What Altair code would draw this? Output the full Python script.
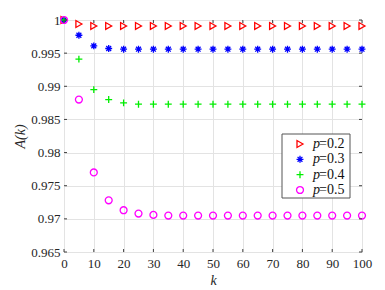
import altair as alt
import pandas as pd

k_vals = [0, 5, 10, 15, 20, 25, 30, 35, 40, 45, 50, 55, 60, 65, 70, 75, 80, 85, 90, 95, 100]
a_p02 = [1.0, 0.9994, 0.9991, 0.9991, 0.9991, 0.9991, 0.9991, 0.9991, 0.9991, 0.9991, 0.9991,
         0.9991, 0.9991, 0.9991, 0.9991, 0.9991, 0.9991, 0.9991, 0.9991, 0.9991, 0.9991]
a_p03 = [1.0, 0.9977, 0.9961, 0.9957, 0.9956, 0.9956, 0.9956, 0.9956, 0.9956, 0.9956, 0.9956,
         0.9956, 0.9956, 0.9956, 0.9956, 0.9956, 0.9956, 0.9956, 0.9956, 0.9956, 0.9956]
a_p04 = [1.0, 0.9941, 0.9895, 0.9880, 0.9875, 0.9873, 0.9873, 0.9873, 0.9873, 0.9873, 0.9873,
         0.9873, 0.9873, 0.9873, 0.9873, 0.9873, 0.9873, 0.9873, 0.9873, 0.9873, 0.9873]
a_p05 = [1.0, 0.9880, 0.9770, 0.9728, 0.9713, 0.9708, 0.9706, 0.9705, 0.9705, 0.9705, 0.9705,
         0.9705, 0.9705, 0.9705, 0.9705, 0.9705, 0.9705, 0.9705, 0.9705, 0.9705, 0.9705]
series = ["0.2", "0.3", "0.4", "0.5"]
x_ticks = [0, 10, 20, 30, 40, 50, 60, 70, 80, 90, 100]
y_ticks = [0.965, 0.97, 0.975, 0.98, 0.985, 0.99, 0.995, 1.0]

colors = ["#ff0000", "#0000ff", "#00ee00", "#ff00ff"]
asterisk = "M-1,0L1,0M0,-1L0,1M-0.7,-0.7L0.7,0.7M-0.7,0.7L0.7,-0.7"
plus = "M-1,0L1,0M0,-1L0,1"
shapes = ["triangle-right", asterisk, plus, "circle"]

rows = []
for s, vals in zip(series, [a_p02, a_p03, a_p04, a_p05]):
    for k, a in zip(k_vals, vals):
        rows.append({"k": k, "A": a, "series": s})
df = pd.DataFrame(rows)

FONT = "Liberation Serif"
xs = alt.Scale(domain=[0, 100], nice=False, zero=False)
ys = alt.Scale(domain=[0.965, 1.0], nice=False, zero=False)
cscale = alt.Scale(domain=series, range=colors)
sscale = alt.Scale(domain=series, range=shapes)

W, H = 298, 232

x_axis = alt.Axis(values=x_ticks, title="k", titleFontStyle="italic", titleFont=FONT,
                  titleFontSize=14, titleFontWeight="normal", titleColor="#262626",
                  labelFont=FONT, labelFontSize=13, labelColor="#262626",
                  labelPadding=5, titlePadding=3, ticks=False, domain=False,
                  grid=True, gridColor="#e3e3e3", labelFlush=False)
y_axis = alt.Axis(values=y_ticks, title="A(k)", titleFontStyle="italic", titleFont=FONT,
                  titleFontSize=14, titleFontWeight="normal", titleColor="#262626",
                  labelFont=FONT, labelFontSize=13, labelColor="#262626",
                  labelPadding=4, titlePadding=3, ticks=False, domain=False,
                  grid=True, gridColor="#e3e3e3", labelFlush=False,
                  labelExpr="datum.value == 1 ? '1' : format(datum.value, '.3~f')")

points = alt.Chart(df).mark_point(filled=False, size=48, strokeWidth=1.3, opacity=1).encode(
    x=alt.X("k:Q", scale=xs, axis=x_axis),
    y=alt.Y("A:Q", scale=ys, axis=y_axis),
    color=alt.Color("series:N", scale=cscale, legend=None),
    shape=alt.Shape("series:N", scale=sscale, legend=None),
    order=alt.Order("series:N"),
)

xt = pd.DataFrame({"t": x_ticks})
yt = pd.DataFrame({"t": y_ticks})
tick_col = "#404040"
xb = alt.Chart(xt).mark_rule(color=tick_col, strokeWidth=1).encode(
    x=alt.X("t:Q", scale=xs, axis=x_axis), y=alt.value(H), y2=alt.value(H - 3))
xtop = alt.Chart(xt).mark_rule(color=tick_col, strokeWidth=1).encode(
    x=alt.X("t:Q", scale=xs, axis=x_axis), y=alt.value(0), y2=alt.value(3))
yl = alt.Chart(yt).mark_rule(color=tick_col, strokeWidth=1).encode(
    y=alt.Y("t:Q", scale=ys, axis=None), x=alt.value(0), x2=alt.value(3))
yr = alt.Chart(yt).mark_rule(color=tick_col, strokeWidth=1).encode(
    y=alt.Y("t:Q", scale=ys, axis=None), x=alt.value(W), x2=alt.value(W - 3))

leg_df = pd.DataFrame({"series": series, "lab": ["=" + s for s in series]})
box = alt.Chart(pd.DataFrame({"a": [0]})).mark_rect(
    fill="white", stroke="#555555", strokeWidth=1).encode(
    x=alt.value(218), x2=alt.value(286), y=alt.value(114), y2=alt.value(178))
ly = alt.Y("series:N", scale=alt.Scale(domain=series, range=[124, 170], padding=0), axis=None)
leg_sym = alt.Chart(leg_df).mark_point(filled=False, size=48, strokeWidth=1.3, opacity=1).encode(
    x=alt.value(236), y=ly,
    color=alt.Color("series:N", scale=cscale, legend=None),
    shape=alt.Shape("series:N", scale=sscale, legend=None),
)
leg_p = alt.Chart(leg_df).mark_text(font=FONT, fontSize=14, fontStyle="italic", align="left",
                                    baseline="middle", color="#111111").encode(
    x=alt.value(249), y=ly, text=alt.value("p"))
leg_t = alt.Chart(leg_df).mark_text(font=FONT, fontSize=14, align="left",
                                    baseline="middle", color="#111111").encode(
    x=alt.value(255), y=ly, text="lab:N")

chart = alt.layer(points, xb, xtop, yl, yr, box, leg_sym, leg_p, leg_t).resolve_scale(
    y="independent"
).properties(
    width=W, height=H,
    autosize=alt.AutoSizeParams(type="none"),
    padding={"left": 56, "top": 12, "right": 15, "bottom": 38},
).configure_view(stroke="#404040", strokeWidth=1.2).configure(background="white")

chart.save("out.html", embed_options={"renderer": "svg", "actions": False})
